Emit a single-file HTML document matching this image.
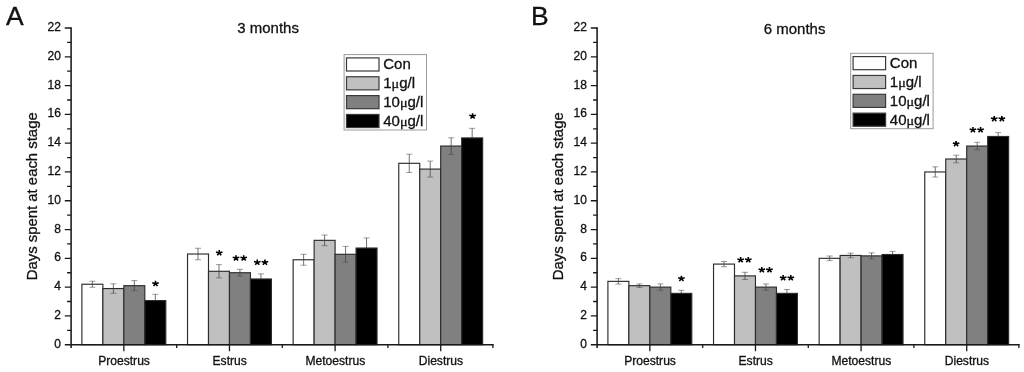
<!DOCTYPE html>
<html><head><meta charset="utf-8"><title>Estrous cycle stages</title>
<style>
html,body{margin:0;padding:0;background:#fff;}
body{width:1024px;height:372px;overflow:hidden;}
svg{display:block;filter:grayscale(1);}
svg text{font-family:"Liberation Sans",sans-serif;fill:#111;stroke:#111;stroke-width:0.3px;}
svg text.st{stroke:none;fill:#000;}
</style></head><body>
<svg width="1024" height="372" viewBox="0 0 1024 372">
<rect width="1024" height="372" fill="#fff"/>
<rect x="81.91" y="284.24" width="20.97" height="60.46" fill="#ffffff" stroke="#2c2c2c" stroke-width="1.15"/>
<rect x="102.88" y="288.56" width="20.97" height="56.14" fill="#c0c0c0" stroke="#2c2c2c" stroke-width="1.15"/>
<rect x="123.85" y="285.68" width="20.97" height="59.02" fill="#808080" stroke="#2c2c2c" stroke-width="1.15"/>
<rect x="144.82" y="300.58" width="20.97" height="44.12" fill="#000000" stroke="#2c2c2c" stroke-width="1.15"/>
<rect x="187.53" y="254.01" width="20.97" height="90.69" fill="#ffffff" stroke="#2c2c2c" stroke-width="1.15"/>
<rect x="208.50" y="271.29" width="20.97" height="73.41" fill="#c0c0c0" stroke="#2c2c2c" stroke-width="1.15"/>
<rect x="229.47" y="272.73" width="20.97" height="71.97" fill="#808080" stroke="#2c2c2c" stroke-width="1.15"/>
<rect x="250.44" y="278.99" width="20.97" height="65.71" fill="#000000" stroke="#2c2c2c" stroke-width="1.15"/>
<rect x="293.15" y="259.77" width="20.97" height="84.93" fill="#ffffff" stroke="#2c2c2c" stroke-width="1.15"/>
<rect x="314.12" y="240.34" width="20.97" height="104.36" fill="#c0c0c0" stroke="#2c2c2c" stroke-width="1.15"/>
<rect x="335.09" y="254.30" width="20.97" height="90.40" fill="#808080" stroke="#2c2c2c" stroke-width="1.15"/>
<rect x="356.06" y="248.04" width="20.97" height="96.66" fill="#000000" stroke="#2c2c2c" stroke-width="1.15"/>
<rect x="398.77" y="163.32" width="20.97" height="181.38" fill="#ffffff" stroke="#2c2c2c" stroke-width="1.15"/>
<rect x="419.74" y="169.08" width="20.97" height="175.62" fill="#c0c0c0" stroke="#2c2c2c" stroke-width="1.15"/>
<rect x="440.71" y="146.05" width="20.97" height="198.65" fill="#808080" stroke="#2c2c2c" stroke-width="1.15"/>
<rect x="461.68" y="137.92" width="20.97" height="206.78" fill="#000000" stroke="#2c2c2c" stroke-width="1.15"/>
<path d="M92.39 287.26V281.22" stroke="#404040" stroke-width="0.75" fill="none"/>
<path d="M89.39 281.22H95.39M89.39 287.26H95.39" stroke="#4a4a4a" stroke-width="0.55" fill="none"/>
<path d="M113.36 293.31V283.81" stroke="#404040" stroke-width="0.75" fill="none"/>
<path d="M110.36 283.81H116.36M110.36 293.31H116.36" stroke="#4a4a4a" stroke-width="0.55" fill="none"/>
<path d="M134.33 290.79V280.57" stroke="#404040" stroke-width="0.75" fill="none"/>
<path d="M131.33 280.57H137.33M131.33 290.79H137.33" stroke="#4a4a4a" stroke-width="0.55" fill="none"/>
<path d="M155.31 300.58V294.32" stroke="#404040" stroke-width="0.75" fill="none"/>
<path d="M152.31 294.32H158.31" stroke="#4a4a4a" stroke-width="0.55" fill="none"/>
<path d="M198.01 259.77V248.25" stroke="#404040" stroke-width="0.75" fill="none"/>
<path d="M195.01 248.25H201.01M195.01 259.77H201.01" stroke="#4a4a4a" stroke-width="0.55" fill="none"/>
<path d="M218.99 277.91V264.66" stroke="#404040" stroke-width="0.75" fill="none"/>
<path d="M215.99 264.66H221.99M215.99 277.91H221.99" stroke="#4a4a4a" stroke-width="0.55" fill="none"/>
<path d="M239.95 276.11V269.34" stroke="#404040" stroke-width="0.75" fill="none"/>
<path d="M236.95 269.34H242.95M236.95 276.11H242.95" stroke="#4a4a4a" stroke-width="0.55" fill="none"/>
<path d="M260.93 278.99V273.88" stroke="#404040" stroke-width="0.75" fill="none"/>
<path d="M257.93 273.88H263.93" stroke="#4a4a4a" stroke-width="0.55" fill="none"/>
<path d="M303.64 265.24V254.30" stroke="#404040" stroke-width="0.75" fill="none"/>
<path d="M300.64 254.30H306.64M300.64 265.24H306.64" stroke="#4a4a4a" stroke-width="0.55" fill="none"/>
<path d="M324.61 245.66V235.01" stroke="#404040" stroke-width="0.75" fill="none"/>
<path d="M321.61 235.01H327.61M321.61 245.66H327.61" stroke="#4a4a4a" stroke-width="0.55" fill="none"/>
<path d="M345.58 262.22V246.38" stroke="#404040" stroke-width="0.75" fill="none"/>
<path d="M342.58 246.38H348.58M342.58 262.22H348.58" stroke="#4a4a4a" stroke-width="0.55" fill="none"/>
<path d="M366.55 248.04V237.89" stroke="#404040" stroke-width="0.75" fill="none"/>
<path d="M363.55 237.89H369.55" stroke="#4a4a4a" stroke-width="0.55" fill="none"/>
<path d="M409.26 172.46V154.18" stroke="#404040" stroke-width="0.75" fill="none"/>
<path d="M406.26 154.18H412.26M406.26 172.46H412.26" stroke="#4a4a4a" stroke-width="0.55" fill="none"/>
<path d="M430.23 177.07V161.09" stroke="#404040" stroke-width="0.75" fill="none"/>
<path d="M427.23 161.09H433.23M427.23 177.07H433.23" stroke="#4a4a4a" stroke-width="0.55" fill="none"/>
<path d="M451.20 154.33V137.77" stroke="#404040" stroke-width="0.75" fill="none"/>
<path d="M448.20 137.77H454.20M448.20 154.33H454.20" stroke="#4a4a4a" stroke-width="0.55" fill="none"/>
<path d="M472.17 137.92V128.34" stroke="#404040" stroke-width="0.75" fill="none"/>
<path d="M469.17 128.34H475.17" stroke="#4a4a4a" stroke-width="0.55" fill="none"/>
<path d="M71.10 27.21V348.00" stroke="#262626" stroke-width="1.65" fill="none"/>
<path d="M64.80 344.70H493.70" stroke="#1a1a1a" stroke-width="1.35" fill="none"/>
<path d="M67.10 330.31H71.10M64.80 315.91H71.10M67.10 301.51H71.10M64.80 287.12H71.10M67.10 272.73H71.10M64.80 258.33H71.10M67.10 243.94H71.10M64.80 229.54H71.10M67.10 215.14H71.10M64.80 200.75H71.10M67.10 186.35H71.10M64.80 171.96H71.10M67.10 157.56H71.10M64.80 143.17H71.10M67.10 128.78H71.10M64.80 114.38H71.10M67.10 99.98H71.10M64.80 85.59H71.10M67.10 71.19H71.10M64.80 56.80H71.10M67.10 42.40H71.10M64.80 28.01H71.10" stroke="#1a1a1a" stroke-width="1.3" fill="none"/>
<text x="60.90" y="347.70" text-anchor="end" font-size="12">0</text>
<text x="60.90" y="318.91" text-anchor="end" font-size="12">2</text>
<text x="60.90" y="290.12" text-anchor="end" font-size="12">4</text>
<text x="60.90" y="261.33" text-anchor="end" font-size="12">6</text>
<text x="60.90" y="232.54" text-anchor="end" font-size="12">8</text>
<text x="60.90" y="203.75" text-anchor="end" font-size="12">10</text>
<text x="60.90" y="174.96" text-anchor="end" font-size="12">12</text>
<text x="60.90" y="146.17" text-anchor="end" font-size="12">14</text>
<text x="60.90" y="117.38" text-anchor="end" font-size="12">16</text>
<text x="60.90" y="88.59" text-anchor="end" font-size="12">18</text>
<text x="60.90" y="59.80" text-anchor="end" font-size="12">20</text>
<text x="60.90" y="31.01" text-anchor="end" font-size="12">22</text>
<path d="M123.85 344.70V351.20M176.66 344.70V348.00M229.47 344.70V351.20M282.28 344.70V348.00M335.09 344.70V351.20M387.90 344.70V348.00M440.71 344.70V351.20M492.90 344.70V348.00" stroke="#1a1a1a" stroke-width="1.3" fill="none"/>
<text x="124.05" y="364.5" text-anchor="middle" font-size="12.1">Proestrus</text>
<text x="229.67" y="364.5" text-anchor="middle" font-size="12.1">Estrus</text>
<text x="335.29" y="364.5" text-anchor="middle" font-size="12.1">Metoestrus</text>
<text x="440.91" y="364.5" text-anchor="middle" font-size="12.1">Diestrus</text>
<text transform="translate(37.30,280.3) rotate(-90)" font-size="15" textLength="168" lengthAdjust="spacingAndGlyphs">Days spent at each stage</text>
<text x="237.30" y="33.00" font-size="15" textLength="61.6" lengthAdjust="spacingAndGlyphs">3 months</text>
<text x="6.00" y="25" font-size="25" transform="translate(6.00,0) scale(1.06,1) translate(-6.00,0)">A</text>
<rect x="344.10" y="54.60" width="82.4" height="75.4" fill="#fff" stroke="#9a9a9a" stroke-width="1"/>
<rect x="346.50" y="57.90" width="32.5" height="13.1" fill="#ffffff" stroke="#3a3a3a" stroke-width="1.2"/>
<text x="383.20" y="69.30" font-size="14.3" transform="translate(383.20,0) scale(1.05,1) translate(-383.20,0)">Con</text>
<rect x="346.50" y="76.75" width="32.5" height="13.1" fill="#c0c0c0" stroke="#3a3a3a" stroke-width="1.2"/>
<text x="383.20" y="88.15" font-size="14.3" transform="translate(383.20,0) scale(1.05,1) translate(-383.20,0)">1<tspan font-family="Liberation Serif" font-size="13.5">μ</tspan>g/l</text>
<rect x="346.50" y="95.60" width="32.5" height="13.1" fill="#808080" stroke="#3a3a3a" stroke-width="1.2"/>
<text x="383.20" y="107.00" font-size="14.3" transform="translate(383.20,0) scale(1.05,1) translate(-383.20,0)">10<tspan font-family="Liberation Serif" font-size="13.5">μ</tspan>g/l</text>
<rect x="346.50" y="114.45" width="32.5" height="13.1" fill="#000000" stroke="#3a3a3a" stroke-width="1.2"/>
<text x="383.20" y="125.85" font-size="14.3" transform="translate(383.20,0) scale(1.05,1) translate(-383.20,0)">40<tspan font-family="Liberation Serif" font-size="13.5">μ</tspan>g/l</text>
<path d="M155.50 283.75L155.50 280.85M155.50 283.75L158.78 282.85M155.50 283.75L157.53 286.10M155.50 283.75L153.47 286.10M155.50 283.75L152.22 282.85" stroke="#000" stroke-width="1.6" fill="none"/>
<path d="M219.25 252.90L219.25 250.00M219.25 252.90L222.53 252.00M219.25 252.90L221.28 255.25M219.25 252.90L217.22 255.25M219.25 252.90L215.97 252.00" stroke="#000" stroke-width="1.6" fill="none"/>
<path d="M236.02 258.10L236.02 255.20M236.02 258.10L239.30 257.20M236.02 258.10L238.05 260.45M236.02 258.10L233.99 260.45M236.02 258.10L232.74 257.20" stroke="#000" stroke-width="1.6" fill="none"/>
<path d="M243.68 258.10L243.68 255.20M243.68 258.10L246.96 257.20M243.68 258.10L245.71 260.45M243.68 258.10L241.65 260.45M243.68 258.10L240.40 257.20" stroke="#000" stroke-width="1.6" fill="none"/>
<path d="M257.27 262.40L257.27 259.50M257.27 262.40L260.55 261.50M257.27 262.40L259.30 264.75M257.27 262.40L255.24 264.75M257.27 262.40L253.99 261.50" stroke="#000" stroke-width="1.6" fill="none"/>
<path d="M264.93 262.40L264.93 259.50M264.93 262.40L268.21 261.50M264.93 262.40L266.96 264.75M264.93 262.40L262.90 264.75M264.93 262.40L261.65 261.50" stroke="#000" stroke-width="1.6" fill="none"/>
<path d="M472.60 116.05L472.60 113.15M472.60 116.05L475.88 115.15M472.60 116.05L474.63 118.40M472.60 116.05L470.57 118.40M472.60 116.05L469.32 115.15" stroke="#000" stroke-width="1.6" fill="none"/>
<rect x="607.91" y="281.36" width="20.97" height="63.34" fill="#ffffff" stroke="#2c2c2c" stroke-width="1.15"/>
<rect x="628.88" y="285.68" width="20.97" height="59.02" fill="#c0c0c0" stroke="#2c2c2c" stroke-width="1.15"/>
<rect x="649.85" y="287.12" width="20.97" height="57.58" fill="#808080" stroke="#2c2c2c" stroke-width="1.15"/>
<rect x="670.82" y="293.38" width="20.97" height="51.32" fill="#000000" stroke="#2c2c2c" stroke-width="1.15"/>
<rect x="713.53" y="264.09" width="20.97" height="80.61" fill="#ffffff" stroke="#2c2c2c" stroke-width="1.15"/>
<rect x="734.50" y="275.89" width="20.97" height="68.81" fill="#c0c0c0" stroke="#2c2c2c" stroke-width="1.15"/>
<rect x="755.47" y="287.12" width="20.97" height="57.58" fill="#808080" stroke="#2c2c2c" stroke-width="1.15"/>
<rect x="776.44" y="293.38" width="20.97" height="51.32" fill="#000000" stroke="#2c2c2c" stroke-width="1.15"/>
<rect x="819.15" y="258.33" width="20.97" height="86.37" fill="#ffffff" stroke="#2c2c2c" stroke-width="1.15"/>
<rect x="840.12" y="255.45" width="20.97" height="89.25" fill="#c0c0c0" stroke="#2c2c2c" stroke-width="1.15"/>
<rect x="861.09" y="255.88" width="20.97" height="88.82" fill="#808080" stroke="#2c2c2c" stroke-width="1.15"/>
<rect x="882.06" y="254.52" width="20.97" height="90.18" fill="#000000" stroke="#2c2c2c" stroke-width="1.15"/>
<rect x="924.77" y="171.96" width="20.97" height="172.74" fill="#ffffff" stroke="#2c2c2c" stroke-width="1.15"/>
<rect x="945.74" y="159.00" width="20.97" height="185.70" fill="#c0c0c0" stroke="#2c2c2c" stroke-width="1.15"/>
<rect x="966.71" y="146.05" width="20.97" height="198.65" fill="#808080" stroke="#2c2c2c" stroke-width="1.15"/>
<rect x="987.68" y="136.48" width="20.97" height="208.22" fill="#000000" stroke="#2c2c2c" stroke-width="1.15"/>
<path d="M618.40 284.10V278.63" stroke="#404040" stroke-width="0.75" fill="none"/>
<path d="M615.40 278.63H621.40M615.40 284.10H621.40" stroke="#4a4a4a" stroke-width="0.55" fill="none"/>
<path d="M639.37 287.41V283.95" stroke="#404040" stroke-width="0.75" fill="none"/>
<path d="M636.37 283.95H642.37M636.37 287.41H642.37" stroke="#4a4a4a" stroke-width="0.55" fill="none"/>
<path d="M660.34 290.29V283.95" stroke="#404040" stroke-width="0.75" fill="none"/>
<path d="M657.34 283.95H663.34M657.34 290.29H663.34" stroke="#4a4a4a" stroke-width="0.55" fill="none"/>
<path d="M681.31 293.38V290.29" stroke="#404040" stroke-width="0.75" fill="none"/>
<path d="M678.31 290.29H684.31" stroke="#4a4a4a" stroke-width="0.55" fill="none"/>
<path d="M724.01 266.68V261.50" stroke="#404040" stroke-width="0.75" fill="none"/>
<path d="M721.01 261.50H727.01M721.01 266.68H727.01" stroke="#4a4a4a" stroke-width="0.55" fill="none"/>
<path d="M744.99 279.49V272.29" stroke="#404040" stroke-width="0.75" fill="none"/>
<path d="M741.99 272.29H747.99M741.99 279.49H747.99" stroke="#4a4a4a" stroke-width="0.55" fill="none"/>
<path d="M765.96 290.29V283.95" stroke="#404040" stroke-width="0.75" fill="none"/>
<path d="M762.96 283.95H768.96M762.96 290.29H768.96" stroke="#4a4a4a" stroke-width="0.55" fill="none"/>
<path d="M786.92 293.38V289.50" stroke="#404040" stroke-width="0.75" fill="none"/>
<path d="M783.92 289.50H789.92" stroke="#4a4a4a" stroke-width="0.55" fill="none"/>
<path d="M829.64 260.63V256.03" stroke="#404040" stroke-width="0.75" fill="none"/>
<path d="M826.64 256.03H832.64M826.64 260.63H832.64" stroke="#4a4a4a" stroke-width="0.55" fill="none"/>
<path d="M850.61 257.75V253.15" stroke="#404040" stroke-width="0.75" fill="none"/>
<path d="M847.61 253.15H853.61M847.61 257.75H853.61" stroke="#4a4a4a" stroke-width="0.55" fill="none"/>
<path d="M871.58 258.91V252.86" stroke="#404040" stroke-width="0.75" fill="none"/>
<path d="M868.58 252.86H874.58M868.58 258.91H874.58" stroke="#4a4a4a" stroke-width="0.55" fill="none"/>
<path d="M892.55 254.52V251.42" stroke="#404040" stroke-width="0.75" fill="none"/>
<path d="M889.55 251.42H895.55" stroke="#4a4a4a" stroke-width="0.55" fill="none"/>
<path d="M935.25 177.07V166.85" stroke="#404040" stroke-width="0.75" fill="none"/>
<path d="M932.25 166.85H938.25M932.25 177.07H938.25" stroke="#4a4a4a" stroke-width="0.55" fill="none"/>
<path d="M956.23 162.82V155.19" stroke="#404040" stroke-width="0.75" fill="none"/>
<path d="M953.23 155.19H959.23M953.23 162.82H959.23" stroke="#4a4a4a" stroke-width="0.55" fill="none"/>
<path d="M977.20 149.79V142.31" stroke="#404040" stroke-width="0.75" fill="none"/>
<path d="M974.20 142.31H980.20M974.20 149.79H980.20" stroke="#4a4a4a" stroke-width="0.55" fill="none"/>
<path d="M998.16 136.48V132.59" stroke="#404040" stroke-width="0.75" fill="none"/>
<path d="M995.16 132.59H1001.16" stroke="#4a4a4a" stroke-width="0.55" fill="none"/>
<path d="M597.10 27.21V348.00" stroke="#262626" stroke-width="1.65" fill="none"/>
<path d="M590.80 344.70H1019.70" stroke="#1a1a1a" stroke-width="1.35" fill="none"/>
<path d="M593.10 330.31H597.10M590.80 315.91H597.10M593.10 301.51H597.10M590.80 287.12H597.10M593.10 272.73H597.10M590.80 258.33H597.10M593.10 243.94H597.10M590.80 229.54H597.10M593.10 215.14H597.10M590.80 200.75H597.10M593.10 186.35H597.10M590.80 171.96H597.10M593.10 157.56H597.10M590.80 143.17H597.10M593.10 128.78H597.10M590.80 114.38H597.10M593.10 99.98H597.10M590.80 85.59H597.10M593.10 71.19H597.10M590.80 56.80H597.10M593.10 42.40H597.10M590.80 28.01H597.10" stroke="#1a1a1a" stroke-width="1.3" fill="none"/>
<text x="586.90" y="347.70" text-anchor="end" font-size="12">0</text>
<text x="586.90" y="318.91" text-anchor="end" font-size="12">2</text>
<text x="586.90" y="290.12" text-anchor="end" font-size="12">4</text>
<text x="586.90" y="261.33" text-anchor="end" font-size="12">6</text>
<text x="586.90" y="232.54" text-anchor="end" font-size="12">8</text>
<text x="586.90" y="203.75" text-anchor="end" font-size="12">10</text>
<text x="586.90" y="174.96" text-anchor="end" font-size="12">12</text>
<text x="586.90" y="146.17" text-anchor="end" font-size="12">14</text>
<text x="586.90" y="117.38" text-anchor="end" font-size="12">16</text>
<text x="586.90" y="88.59" text-anchor="end" font-size="12">18</text>
<text x="586.90" y="59.80" text-anchor="end" font-size="12">20</text>
<text x="586.90" y="31.01" text-anchor="end" font-size="12">22</text>
<path d="M649.85 344.70V351.20M702.66 344.70V348.00M755.47 344.70V351.20M808.28 344.70V348.00M861.09 344.70V351.20M913.90 344.70V348.00M966.71 344.70V351.20M1018.90 344.70V348.00" stroke="#1a1a1a" stroke-width="1.3" fill="none"/>
<text x="650.05" y="364.5" text-anchor="middle" font-size="12.1">Proestrus</text>
<text x="755.67" y="364.5" text-anchor="middle" font-size="12.1">Estrus</text>
<text x="861.29" y="364.5" text-anchor="middle" font-size="12.1">Metoestrus</text>
<text x="966.91" y="364.5" text-anchor="middle" font-size="12.1">Diestrus</text>
<text transform="translate(563.30,280.3) rotate(-90)" font-size="15" textLength="168" lengthAdjust="spacingAndGlyphs">Days spent at each stage</text>
<text x="763.80" y="33.70" font-size="15" textLength="61.6" lengthAdjust="spacingAndGlyphs">6 months</text>
<text x="530.90" y="25" font-size="25" transform="translate(530.90,0) scale(1.06,1) translate(-530.90,0)">B</text>
<rect x="850.70" y="53.30" width="82.4" height="75.4" fill="#fff" stroke="#9a9a9a" stroke-width="1"/>
<rect x="853.10" y="56.60" width="32.5" height="13.1" fill="#ffffff" stroke="#3a3a3a" stroke-width="1.2"/>
<text x="889.80" y="68.00" font-size="14.3" transform="translate(889.80,0) scale(1.05,1) translate(-889.80,0)">Con</text>
<rect x="853.10" y="75.45" width="32.5" height="13.1" fill="#c0c0c0" stroke="#3a3a3a" stroke-width="1.2"/>
<text x="889.80" y="86.85" font-size="14.3" transform="translate(889.80,0) scale(1.05,1) translate(-889.80,0)">1<tspan font-family="Liberation Serif" font-size="13.5">μ</tspan>g/l</text>
<rect x="853.10" y="94.30" width="32.5" height="13.1" fill="#808080" stroke="#3a3a3a" stroke-width="1.2"/>
<text x="889.80" y="105.70" font-size="14.3" transform="translate(889.80,0) scale(1.05,1) translate(-889.80,0)">10<tspan font-family="Liberation Serif" font-size="13.5">μ</tspan>g/l</text>
<rect x="853.10" y="113.15" width="32.5" height="13.1" fill="#000000" stroke="#3a3a3a" stroke-width="1.2"/>
<text x="889.80" y="124.55" font-size="14.3" transform="translate(889.80,0) scale(1.05,1) translate(-889.80,0)">40<tspan font-family="Liberation Serif" font-size="13.5">μ</tspan>g/l</text>
<path d="M681.40 278.60L681.40 275.70M681.40 278.60L684.68 277.70M681.40 278.60L683.43 280.95M681.40 278.60L679.37 280.95M681.40 278.60L678.12 277.70" stroke="#000" stroke-width="1.6" fill="none"/>
<path d="M740.62 259.90L740.62 257.00M740.62 259.90L743.90 259.00M740.62 259.90L742.65 262.25M740.62 259.90L738.59 262.25M740.62 259.90L737.34 259.00" stroke="#000" stroke-width="1.6" fill="none"/>
<path d="M748.28 259.90L748.28 257.00M748.28 259.90L751.56 259.00M748.28 259.90L750.31 262.25M748.28 259.90L746.25 262.25M748.28 259.90L745.00 259.00" stroke="#000" stroke-width="1.6" fill="none"/>
<path d="M761.82 269.90L761.82 267.00M761.82 269.90L765.10 269.00M761.82 269.90L763.85 272.25M761.82 269.90L759.79 272.25M761.82 269.90L758.54 269.00" stroke="#000" stroke-width="1.6" fill="none"/>
<path d="M769.48 269.90L769.48 267.00M769.48 269.90L772.76 269.00M769.48 269.90L771.51 272.25M769.48 269.90L767.45 272.25M769.48 269.90L766.20 269.00" stroke="#000" stroke-width="1.6" fill="none"/>
<path d="M783.12 277.90L783.12 275.00M783.12 277.90L786.40 277.00M783.12 277.90L785.15 280.25M783.12 277.90L781.09 280.25M783.12 277.90L779.84 277.00" stroke="#000" stroke-width="1.6" fill="none"/>
<path d="M790.78 277.90L790.78 275.00M790.78 277.90L794.06 277.00M790.78 277.90L792.81 280.25M790.78 277.90L788.75 280.25M790.78 277.90L787.50 277.00" stroke="#000" stroke-width="1.6" fill="none"/>
<path d="M956.10 143.80L956.10 140.90M956.10 143.80L959.38 142.90M956.10 143.80L958.13 146.15M956.10 143.80L954.07 146.15M956.10 143.80L952.82 142.90" stroke="#000" stroke-width="1.6" fill="none"/>
<path d="M972.92 130.00L972.92 127.10M972.92 130.00L976.20 129.10M972.92 130.00L974.95 132.35M972.92 130.00L970.89 132.35M972.92 130.00L969.64 129.10" stroke="#000" stroke-width="1.6" fill="none"/>
<path d="M980.58 130.00L980.58 127.10M980.58 130.00L983.86 129.10M980.58 130.00L982.61 132.35M980.58 130.00L978.55 132.35M980.58 130.00L977.30 129.10" stroke="#000" stroke-width="1.6" fill="none"/>
<path d="M994.22 118.80L994.22 115.90M994.22 118.80L997.50 117.90M994.22 118.80L996.25 121.15M994.22 118.80L992.19 121.15M994.22 118.80L990.94 117.90" stroke="#000" stroke-width="1.6" fill="none"/>
<path d="M1001.88 118.80L1001.88 115.90M1001.88 118.80L1005.16 117.90M1001.88 118.80L1003.91 121.15M1001.88 118.80L999.85 121.15M1001.88 118.80L998.60 117.90" stroke="#000" stroke-width="1.6" fill="none"/>
</svg>
</body></html>
